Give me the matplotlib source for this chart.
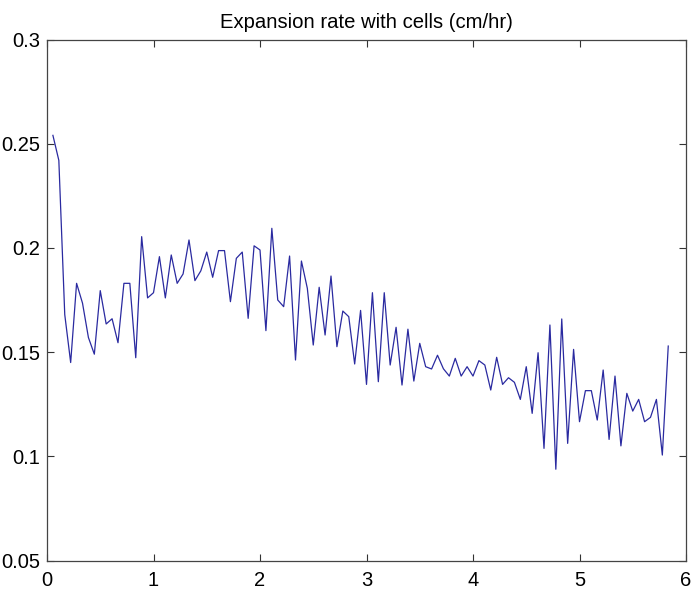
import matplotlib
matplotlib.use("Agg")
import matplotlib.pyplot as plt
import numpy as np

# Sample index (time = index / 18 hr)
sample_index = list(range(1, 106))
rate = [
    0.254, 0.242, 0.168, 0.145, 0.183, 0.1735, 0.157, 0.149, 0.1795, 0.1635,
    0.166, 0.1545, 0.183, 0.183, 0.1473, 0.2054, 0.176, 0.1785, 0.1958, 0.176,
    0.1966, 0.183, 0.1875, 0.2038, 0.1843, 0.189, 0.198, 0.1859, 0.1987, 0.1987,
    0.1742, 0.195, 0.198, 0.1662, 0.201, 0.199, 0.1603, 0.2094, 0.175, 0.1718,
    0.1961, 0.1462, 0.1937, 0.1806, 0.1534, 0.1811, 0.1582, 0.1865, 0.1526, 0.1697,
    0.167, 0.1443, 0.1700, 0.1345, 0.1785, 0.1358, 0.1785, 0.1438, 0.1619, 0.1342,
    0.161, 0.1361, 0.1542, 0.143, 0.1419, 0.1485, 0.142, 0.1385, 0.147, 0.1385,
    0.143, 0.1385, 0.1459, 0.1438, 0.1318, 0.1475, 0.1345, 0.1377, 0.1355, 0.1273,
    0.143, 0.1206, 0.1497, 0.1038, 0.163, 0.0938, 0.1659, 0.1062, 0.1513, 0.1166,
    0.1315, 0.1315, 0.1174, 0.1414, 0.1081, 0.1385, 0.105, 0.1302, 0.1217, 0.1273,
    0.1166, 0.1187, 0.1273, 0.1006, 0.1529,
]
time_hr = [i / 18.0 for i in sample_index]

x_ticks = [0, 1, 2, 3, 4, 5, 6]
y_ticks = [0.05, 0.1, 0.15, 0.2, 0.25, 0.3]
y_tick_labels = ["0.05", "0.1", "0.15", "0.2", "0.25", "0.3"]
title = "Expansion rate with cells (cm/hr)"

plt.rcParams['font.family'] = ['Liberation Sans', 'DejaVu Sans']

fig = plt.figure(figsize=(7.0, 5.95), dpi=100)
ax = fig.add_axes([47/700, (595-560.5)/595, (686-47)/700, (560.5-39.5)/595])

ax.plot(time_hr, rate, color='#2a2aa0', linewidth=0.9)

ax.set_xlim(0, 6)
ax.set_ylim(0.05, 0.3)
ax.set_xticks(x_ticks)
ax.set_xticklabels([str(t) for t in x_ticks], fontsize=14.5)
ax.set_yticks(y_ticks)
ax.set_yticklabels(y_tick_labels, fontsize=14.5)

ax.tick_params(axis='both', direction='in', length=5, width=0.8, color='#333333',
               top=True, right=True)
ax.tick_params(axis='x', pad=7.5)
ax.tick_params(axis='y', pad=5)
for s in ax.spines.values():
    s.set_color('#444444')
    s.set_linewidth(0.9)

ax.set_title(title, fontsize=14.6, pad=8)

fig.savefig("out.png", dpi=100)
